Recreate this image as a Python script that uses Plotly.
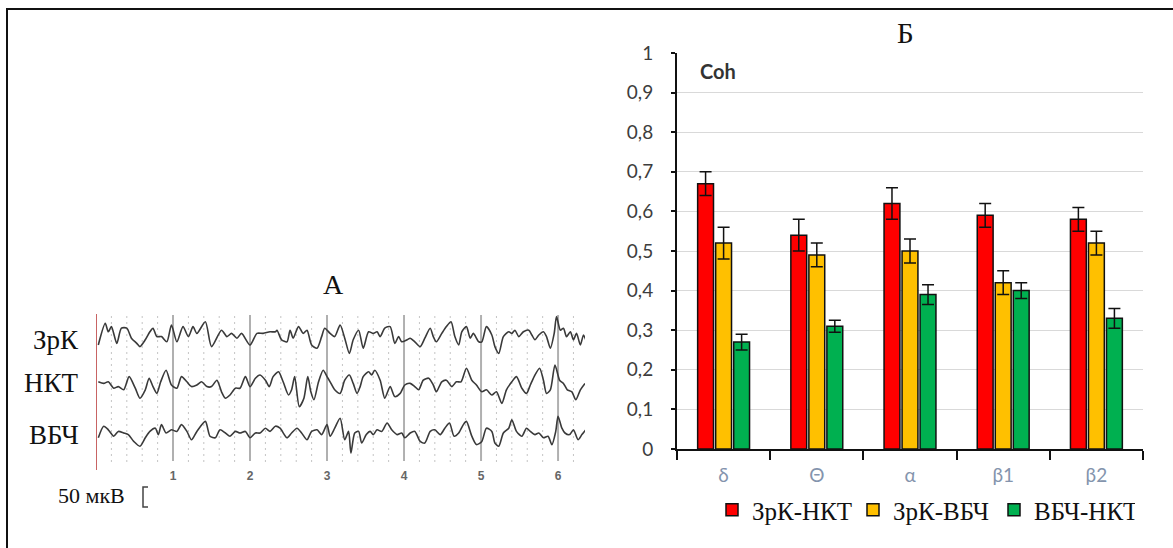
import plotly.graph_objects as go

# ---------------- Panel Б (coherence bar chart) data ----------------
bands = ["δ", "Θ", "α", "β1", "β2"]
series_names = ["ЗрК-НКТ", "ЗрК-ВБЧ", "ВБЧ-НКТ"]
coh_zrk_nkt = [0.67, 0.54, 0.62, 0.59, 0.58]
err_zrk_nkt = [0.03, 0.04, 0.04, 0.03, 0.03]
coh_zrk_vbch = [0.52, 0.49, 0.50, 0.42, 0.52]
err_zrk_vbch = [0.04, 0.03, 0.03, 0.03, 0.03]
coh_vbch_nkt = [0.27, 0.31, 0.39, 0.40, 0.33]
err_vbch_nkt = [0.02, 0.015, 0.025, 0.02, 0.025]
y_tick_vals = [0, 0.1, 0.2, 0.3, 0.4, 0.5, 0.6, 0.7, 0.8, 0.9, 1.0]
y_tick_text = ["0", "0,1", "0,2", "0,3", "0,4", "0,5", "0,6", "0,7", "0,8", "0,9", "1"]

# ---------------- Panel А (EEG traces) data: time, s / amplitude, µV ----------------
channels = ["ЗрК", "НКТ", "ВБЧ"]
time_ticks = [1, 2, 3, 4, 5, 6]

t_zrk = [0.03, 0.12, 0.16, 0.20, 0.27, 0.33, 0.40, 0.46, 0.53, 0.57, 0.64, 0.70, 0.74, 0.79, 0.85,
         0.92, 0.98, 1.05, 1.13, 1.20, 1.26, 1.31, 1.42, 1.50, 1.63, 1.70, 1.76, 1.83, 1.89, 2.00,
         2.09, 2.17, 2.26, 2.33, 2.35, 2.41, 2.48, 2.52, 2.56, 2.63, 2.69, 2.74, 2.80, 2.87, 2.93,
         2.97, 3.04, 3.10, 3.17, 3.23, 3.29, 3.34, 3.41, 3.47, 3.54, 3.60, 3.65, 3.69, 3.75, 3.82,
         3.88, 3.93, 3.97, 4.04, 4.08, 4.14, 4.21, 4.27, 4.34, 4.38, 4.42, 4.49, 4.55, 4.61, 4.66,
         4.71, 4.75, 4.81, 4.86, 4.90, 4.97, 5.01, 5.07, 5.14, 5.18, 5.23, 5.29, 5.36, 5.40, 5.44,
         5.49, 5.55, 5.62, 5.66, 5.70, 5.75, 5.81, 5.85, 5.90, 5.95, 5.98, 6.03, 6.07, 6.11, 6.16,
         6.20, 6.24, 6.29, 6.33, 6.36]
v_zrk = [-25, 29, 8, 21, -21, 17, 17, -8, -21, -29, -12, 8, 17, -4, -4,
         -17, 25, -17, 21, -4, 21, 4, 33, -29, 12, -4, 4, -8, 4, -25,
         4, 4, 8, 8, 12, -12, -17, 12, -8, 21, 4, 12, -25, -33, -4,
         17, 4, -4, 25, -8, -46, -12, 12, -33, 8, 4, 8, -4, 17, 21,
         -21, -4, -17, -12, -8, -17, -29, -8, 17, -4, -17, 4, 21, 33, -4,
         -25, 8, 21, -8, 4, -17, -17, 21, 0, -29, -46, -4, 8, 4, 12,
         -4, 8, 12, 0, -12, 0, 8, -4, -33, 4, 46, 12, 17, -4, 8,
         -12, 4, -25, 0, -12]

t_nkt = [0.03, 0.10, 0.16, 0.23, 0.29, 0.36, 0.43, 0.51, 0.57, 0.64, 0.69, 0.74, 0.79, 0.84, 0.91,
         0.98, 1.05, 1.11, 1.18, 1.24, 1.31, 1.37, 1.44, 1.50, 1.57, 1.63, 1.68, 1.74, 1.81, 1.87,
         1.94, 2.00, 2.07, 2.13, 2.20, 2.25, 2.30, 2.37, 2.43, 2.50, 2.54, 2.58, 2.64, 2.70, 2.75,
         2.79, 2.83, 2.89, 2.95, 3.00, 3.04, 3.10, 3.17, 3.23, 3.29, 3.34, 3.39, 3.43, 3.47, 3.54,
         3.58, 3.62, 3.69, 3.75, 3.82, 3.88, 3.95, 4.01, 4.08, 4.14, 4.19, 4.25, 4.32, 4.38, 4.42,
         4.49, 4.55, 4.62, 4.68, 4.74, 4.81, 4.88, 4.94, 5.01, 5.07, 5.14, 5.20, 5.27, 5.33, 5.40,
         5.46, 5.53, 5.59, 5.64, 5.69, 5.76, 5.81, 5.85, 5.90, 5.96, 6.02, 6.07, 6.12, 6.18, 6.23,
         6.29, 6.35]
v_nkt = [8, 4, 8, -8, -4, -12, 21, -8, -33, -12, 17, -4, -21, 8, 37,
         0, -8, 21, 8, -4, 0, 8, -4, -4, 12, -17, -33, -25, -8, -8,
         21, -4, 17, 25, 12, -4, 21, 33, 8, -25, -12, 21, -54, -33, 21,
         -17, -37, 8, 37, 21, 8, -12, -21, 12, 25, 4, -21, -4, 21, 33,
         25, 37, 12, -33, -4, -29, -21, 0, 4, -4, -12, 12, 17, 0, -17,
         8, 12, -4, 8, 8, 42, 12, 0, -17, -12, -25, -17, -46, -12, 8,
         21, -8, -21, 0, 21, 42, 12, -21, -12, 50, 12, 4, -12, -17, -37,
         -12, 4]

t_vbch = [0.03, 0.10, 0.16, 0.23, 0.29, 0.36, 0.42, 0.49, 0.57, 0.64, 0.70, 0.77, 0.81, 0.85, 0.91,
          0.98, 1.05, 1.11, 1.18, 1.24, 1.31, 1.42, 1.48, 1.55, 1.61, 1.68, 1.74, 1.81, 1.87, 1.94,
          2.00, 2.07, 2.13, 2.20, 2.26, 2.33, 2.39, 2.48, 2.54, 2.61, 2.67, 2.74, 2.80, 2.87, 2.93,
          3.00, 3.04, 3.10, 3.17, 3.23, 3.28, 3.31, 3.36, 3.41, 3.45, 3.51, 3.56, 3.60, 3.65, 3.71,
          3.78, 3.84, 3.91, 3.97, 4.01, 4.08, 4.14, 4.21, 4.27, 4.34, 4.40, 4.47, 4.53, 4.59, 4.65,
          4.71, 4.77, 4.81, 4.88, 4.94, 5.01, 5.07, 5.14, 5.18, 5.23, 5.29, 5.36, 5.40, 5.46, 5.53,
          5.59, 5.64, 5.70, 5.75, 5.81, 5.87, 5.92, 5.97, 6.00, 6.05, 6.09, 6.15, 6.20, 6.26, 6.31,
          6.36]
v_vbch = [-12, 17, 8, -8, 4, 0, -4, -21, -33, -12, 4, 12, -4, 21, 0,
          8, 4, 21, 4, -17, 4, 29, -8, -12, 8, 0, -8, 4, 0, 4,
          -12, 0, 0, 12, 4, 17, 12, -12, 0, 12, 0, -17, 4, 8, -4,
          21, -8, 12, 37, -17, 4, -50, 0, 4, -25, -4, 4, -4, 8, 4,
          25, 8, -4, 0, -12, 0, 4, -21, -25, 4, 8, -4, 12, 25, -8,
          0, 21, 29, -8, -29, -21, 12, 4, -25, -33, 0, 12, 33, 4, -8,
          12, 4, -4, 0, -12, -8, -29, 4, 42, 12, 0, -4, 8, -17, -4,
          8]

# ---------------- layout helpers (pixel -> paper) ----------------
W, H = 1173, 548


def px(x):
    return x / W


def py(y):
    return 1 - y / H


SERIF = "Liberation Serif, Times New Roman, serif"
SANS = "Lato, Open Sans, sans-serif"

fig = go.Figure()

# ---- bars ----
bar_colors = ["#ff0000", "#ffc000", "#00b050"]
for name, vals, errs, col in zip(series_names,
                                 [coh_zrk_nkt, coh_zrk_vbch, coh_vbch_nkt],
                                 [err_zrk_nkt, err_zrk_vbch, err_vbch_nkt],
                                 bar_colors):
    fig.add_trace(go.Bar(
        x=bands, y=vals, name=name,
        marker=dict(color=col, line=dict(color="#111111", width=1.5)),
        error_y=dict(type="data", array=errs, visible=True, color="#111111",
                     thickness=1.5, width=6),
        xaxis="x", yaxis="y",
    ))

# ---- EEG traces ----
# vertical offsets (µV) of each channel baseline in the stacked display
offsets = {"ЗрК": 317.5, "НКТ": 192.5, "ВБЧ": 72.5}
for ch, tt, vv in zip(channels, [t_zrk, t_nkt, t_vbch], [v_zrk, v_nkt, v_vbch]):
    fig.add_trace(go.Scatter(
        x=tt, y=[offsets[ch] + v for v in vv], mode="lines",
        line=dict(color="#3a3a3a", width=1.6, shape="spline", smoothing=0.7),
        showlegend=False, hoverinfo="skip",
        xaxis="x2", yaxis="y2",
    ))

shapes = []
# EEG grid: dotted every 0.2 s, solid every 1 s, red start line
for k in range(1, 32):
    t = k * 0.2
    if k % 5 == 0:
        continue
    shapes.append(dict(type="line", xref="x2", yref="paper", x0=t, x1=t,
                       y0=py(462), y1=py(314),
                       line=dict(color="#c4c4c4", width=1, dash="2px,4px"), layer="below"))
for t in time_ticks:
    shapes.append(dict(type="line", xref="x2", yref="paper", x0=t, x1=t,
                       y0=py(461), y1=py(315),
                       line=dict(color="#b0b0b0", width=2), layer="below"))
shapes.append(dict(type="line", xref="x2", yref="paper", x0=0, x1=0,
                   y0=py(470), y1=py(314), line=dict(color="#c86464", width=2)))
# scale bracket 50 µV
shapes.append(dict(type="path", xref="paper", yref="paper",
                   path=f"M {px(148)},{py(487)} L {px(143)},{py(487)} L {px(143)},{py(507)} L {px(148)},{py(507)}",
                   line=dict(color="#444444", width=1.5)))
# outer frame (only left and top edges are inside the picture)
shapes.append(dict(type="path", xref="paper", yref="paper",
                   path=f"M {px(7)},{py(548)} L {px(7)},{py(9)} L {px(1173)},{py(9)}",
                   line=dict(color="#111111", width=2)))

annotations = [
    dict(text="А", x=px(333), y=py(284), xref="paper", yref="paper", showarrow=False,
         xanchor="center", yanchor="middle", font=dict(family=SERIF, size=28, color="#111111")),
    dict(text="Б", x=px(905), y=py(33), xref="paper", yref="paper", showarrow=False,
         xanchor="center", yanchor="middle", font=dict(family=SERIF, size=29, color="#111111")),
    dict(text="Coh", x=px(698), y=py(71), xref="paper", yref="paper", xanchor="left",
         yanchor="middle", showarrow=False,
         font=dict(family=SANS, size=20, color="#333333", weight="bold")),
    dict(text="50 мкВ", x=px(56), y=py(495), xref="paper", yref="paper", xanchor="left",
         yanchor="middle", showarrow=False, font=dict(family=SERIF, size=22, color="#111111")),
]
for ch, ypix in zip(channels, [340, 383, 435]):
    annotations.append(dict(text=ch, x=px(81), y=py(ypix), xref="paper", yref="paper",
                            xanchor="right", yanchor="middle", showarrow=False,
                            font=dict(family=SERIF, size=27, color="#111111")))

fig.update_layout(
    width=W, height=H, margin=dict(l=0, r=0, t=0, b=0, pad=0, autoexpand=False),
    paper_bgcolor="white", plot_bgcolor="white",
    barmode="group", bargap=0.42, bargroupgap=0.12,
    xaxis=dict(domain=[px(677), px(1143)], anchor="y", type="category", automargin=False,
               showline=True, linecolor="#111111", linewidth=2,
               ticks="outside", tickson="boundaries", ticklen=9, tickwidth=1.5, tickcolor="#111111",
               tickfont=dict(family=SANS, size=19, color="#8494ad"),
               ticklabelstandoff=8, showgrid=False, zeroline=False),
    yaxis=dict(domain=[py(449), py(53)], anchor="x", range=[0, 1], automargin=False,
               tickvals=y_tick_vals, ticktext=y_tick_text,
               showline=True, linecolor="#111111", linewidth=2,
               ticks="outside", ticklen=4, tickwidth=1.5, tickcolor="#111111",
               showgrid=True, gridcolor="#d9d9d9", gridwidth=1, zeroline=False,
               tickfont=dict(family=SANS, size=19, color="#3d3d3d"),
               ticklabelstandoff=14),
    xaxis2=dict(domain=[px(96), px(585)], anchor="y2", range=[0, 6.35], automargin=False,
                tickvals=time_ticks, ticks="", showgrid=False, zeroline=False,
                showline=False, tickfont=dict(family="Liberation Sans, Arial", size=12,
                                              color="#666666", weight="bold"),
                ticklabelstandoff=5),
    yaxis2=dict(domain=[py(462), py(313)], anchor="x2", range=[0, 372.5], visible=False,
                automargin=False),
    shapes=shapes, annotations=annotations,
    legend=dict(orientation="h", x=px(712), y=py(510), xanchor="left", yanchor="middle",
                font=dict(family=SERIF, size=25, color="#111111"),
                entrywidth=96, entrywidthmode="pixels", bgcolor="rgba(0,0,0,0)",
                itemclick=False),
    showlegend=True,
)

fig.write_html("out.html", config={"displayModeBar": False},
               post_script="document.body.style.margin='0px';document.body.style.overflow='hidden';")
